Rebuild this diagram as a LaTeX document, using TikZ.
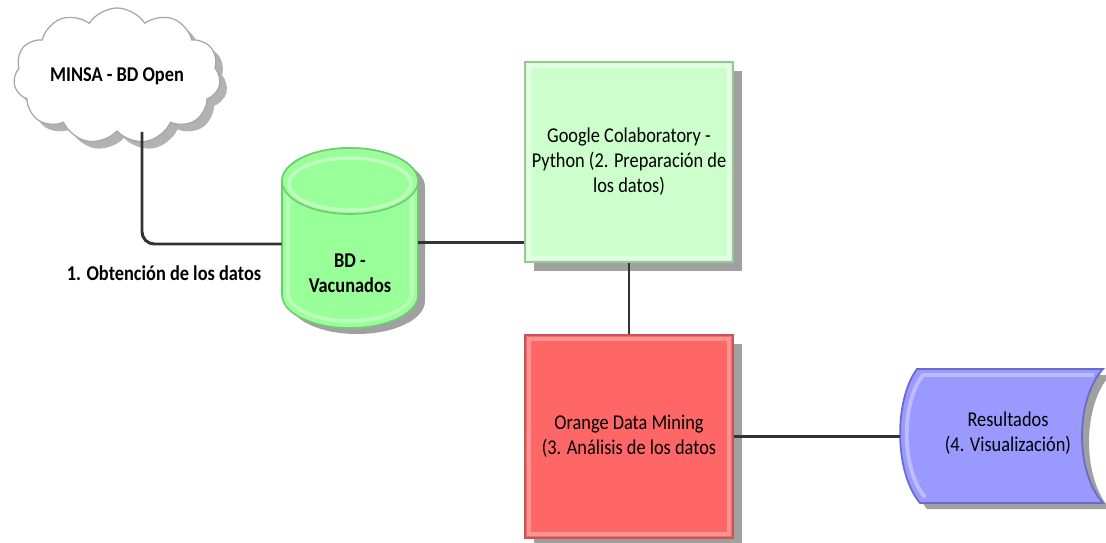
\documentclass[tikz,border=0pt]{standalone}
\usepackage{fontspec}
\setmainfont{Carlito}[FakeStretch=0.87]
\usetikzlibrary{shapes.symbols,shadows,calc}
\definecolor{gfill}{HTML}{CCFFCC}
\definecolor{gline}{HTML}{9CC49C}
\definecolor{rfill}{HTML}{FF6666}
\definecolor{rline}{HTML}{C85555}
\definecolor{bfill}{HTML}{9999FF}
\definecolor{bline}{HTML}{6A6ACC}
\definecolor{cfill}{HTML}{99FF99}
\definecolor{cline}{HTML}{74C874}
\definecolor{lnc}{HTML}{333333}
\definecolor{shd}{HTML}{A0A0A0}
\tikzset{
  txt/.style={font=\fontsize{12}{14.2}\selectfont, align=center, inner sep=0pt},
  btxt/.style={font=\bfseries\fontsize{12}{14.2}\selectfont, align=center, inner sep=0pt},
  conn/.style={draw=lnc, line width=1.7pt},
  boxnode/.style={rectangle, minimum width=4.16cm, line width=1.4pt, txt,
    drop shadow={shadow xshift=5pt, shadow yshift=-5pt, fill=shd, opacity=1}},
  hilite/.style={draw=white, opacity=0.45, line width=2.5pt},
  anchorbox/.style={rectangle, inner sep=0pt, draw=none}
}
\begin{document}
\begin{tikzpicture}[x=0.02cm,y=0.02cm]
\useasboundingbox (0,0) rectangle (1106,-542);

% cloud
\node[cloud, cloud puffs=11, cloud puff arc=115, aspect=1.7,
  minimum width=4.14cm, minimum height=2.5cm, draw=gray!70, fill=white,
  line width=0.7pt, inner sep=0pt, btxt,
  drop shadow={shadow xshift=4pt, shadow yshift=-4pt, fill=black!30, opacity=1}]
  (cloud) at (117,-76) {MINSA - BD Open};

% cylinder
\fill[shd, shift={(7,-6)}] (282,-181) -- (282,-295)
  arc[start angle=180, end angle=360, x radius=68, y radius=33]
  -- (418,-181) arc[start angle=0, end angle=180, x radius=68, y radius=33] -- cycle;
\draw[cline, fill=cfill, line width=0.9pt] (282,-181) -- (282,-295)
  arc[start angle=180, end angle=360, x radius=68, y radius=33]
  -- (418,-181) arc[start angle=0, end angle=180, x radius=68, y radius=33] -- cycle;
\draw[white, opacity=0.35, line width=2pt] (288,-190) -- (288,-293)
  arc[start angle=180, end angle=360, x radius=62, y radius=28] -- (412,-190);
\draw[cline, fill=cfill, line width=0.9pt] (350,-181) ellipse[x radius=68, y radius=33];
\draw[white, opacity=0.4, line width=1.8pt] (350,-184) ellipse[x radius=61, y radius=26];
\node[anchorbox, minimum width=2.72cm, minimum height=3.6cm] (cyl) at (350,-238) {};
\node[btxt] (cyltxt) at (350,-273) {BD -\\Vacunados};

% Google box
\node[boxnode, minimum height=4cm, fill=gfill, draw=gline] (goog) at (629,-162)
  {Google Colaboratory -\\Python (2. Preparación de\\los datos)};
\draw[hilite] ([xshift=0.1cm,yshift=-0.1cm]goog.north west) rectangle ([xshift=-0.1cm,yshift=0.1cm]goog.south east);

% Orange box
\node[boxnode, minimum height=4.06cm, fill=rfill, draw=rline] (orange) at (629,-436.5)
  {Orange Data Mining\\(3. Análisis de los datos};
\draw[hilite, opacity=0.3] ([xshift=0.1cm,yshift=-0.1cm]orange.north west) rectangle ([xshift=-0.1cm,yshift=0.1cm]orange.south east);

% Resultados (stored data shape)
\fill[shd, shift={(7,-6)}] (917,-369) -- (1103,-369)
  .. controls (1075,-400) and (1075,-472) .. (1103,-503)
  -- (920,-503) .. controls (894,-472) and (894,-400) .. cycle;
\draw[bline, fill=bfill, line width=1pt] (917,-369) -- (1103,-369)
  .. controls (1075,-400) and (1075,-472) .. (1103,-503)
  -- (920,-503) .. controls (894,-472) and (894,-400) .. cycle;
\draw[white, opacity=0.35, line width=2.2pt] (1094,-375) -- (923,-375)
  .. controls (901,-402) and (901,-470) .. (925,-497);
\node[anchorbox, minimum width=4.06cm, minimum height=2.68cm] (res) at (1001.5,-436.5) {};
\node[txt] (restxt) at (1008,-433) {Resultados\\(4. Visualización)};

% label
\node[btxt] (lab) at (164,-273) {1. Obtención de los datos};

% connectors
\draw[conn, rounded corners=7pt] ([xshift=0.5cm]cloud.south) |- ([yshift=-0.12cm]cyl.west);
\coordinate (g1) at ([yshift=-1.62cm]goog.west);
\draw[conn] (cyl.east |- g1) -- (g1);
\draw[conn] (goog.south) -- (orange.north);
\draw[conn] (orange.east) -- (res.west);
\end{tikzpicture}
\end{document}
